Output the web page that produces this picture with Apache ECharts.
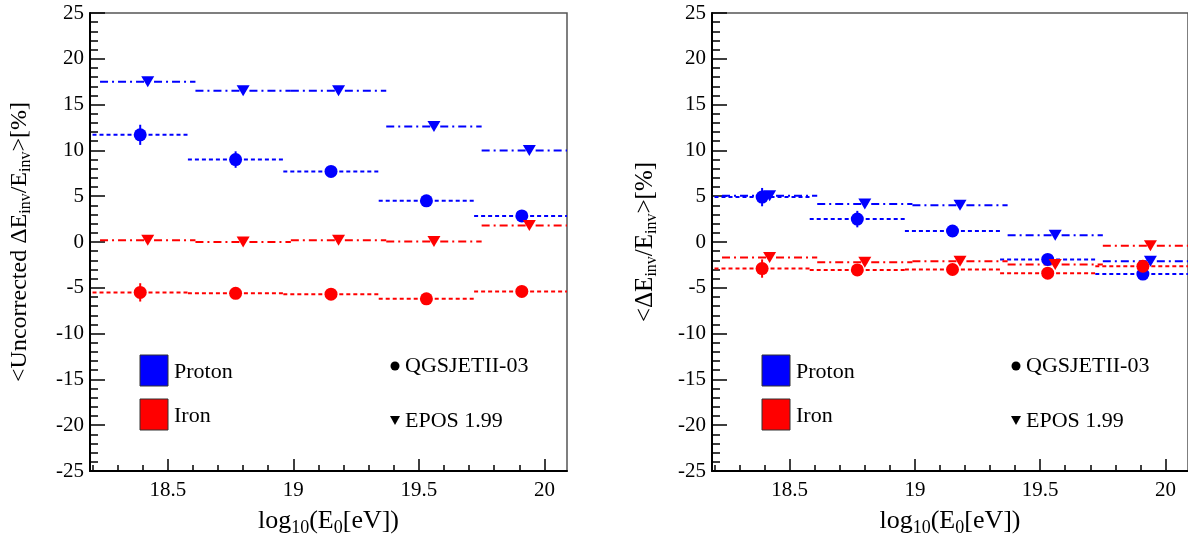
<!DOCTYPE html>
<html>
<head>
<meta charset="utf-8">
<script src="https://cdn.jsdelivr.net/npm/echarts@6/dist/echarts.min.js"></script>
<style>html,body{margin:0;padding:0;background:#fff;}#c{width:1188px;height:542px;}</style>
</head>
<body>
<div id="c"></div>
<script>
// ---- data ----
const qgsEdges = [18.2, 18.58, 18.96, 19.34, 19.72, 20.1];
const eposEdges = [18.23, 18.61, 18.99, 19.37, 19.75, 20.13];
const qgsX = [18.39, 18.77, 19.15, 19.53, 19.91];
const eposX = [18.42, 18.80, 19.18, 19.56, 19.94];

// left panel: uncorrected
const protonQgsUncorr = [11.7, 9.0, 7.7, 4.5, 2.85];
const protonQgsUncorrErr = [1.1, 0.9, 0.5, 0.4, 0.4];
const protonEposUncorr = [17.5, 16.5, 16.5, 12.6, 10.0];
const ironQgsUncorr = [-5.5, -5.6, -5.7, -6.2, -5.4];
const ironQgsUncorrErr = [1.0, 0.6, 0.5, 0.4, 0.4];
const ironEposUncorr = [0.2, 0.0, 0.2, 0.05, 1.8];

// right panel: corrected
const protonQgs = [4.9, 2.5, 1.2, -1.9, -3.5];
const protonQgsErr = [1.0, 0.9, 0.5, 0.4, 0.4];
const protonEpos = [5.05, 4.15, 4.0, 0.75, -2.1];
const ironQgs = [-2.9, -3.05, -3.0, -3.4, -2.65];
const ironQgsErr = [1.0, 0.6, 0.5, 0.4, 0.4];
const ironEpos = [-1.7, -2.2, -2.1, -2.45, -0.4];

const xMajorTicks = [18.5, 19, 19.5, 20];
const xMinorTicks = [18.2, 18.3, 18.4, 18.6, 18.7, 18.8, 18.9, 19.1, 19.2, 19.3, 19.4, 19.6, 19.7, 19.8, 19.9];

// ---- styles ----
const FONT = '"Liberation Serif", "Times New Roman", serif';
const BLUE = '#0000ff', RED = '#ff0000';
const DASH_Q = [4, 3];
const DASH_E = [8, 4, 2, 4];

function binSeries(ax, edges, vals, color, dash) {
  return {
    type: 'custom', xAxisIndex: ax, yAxisIndex: ax >> 1, clip: true, z: 2,
    data: vals.map((v, i) => [edges[i], edges[i + 1], v]),
    encode: {x: [0, 1], y: 2},
    renderItem: (p, api) => {
      const a = api.coord([api.value(0), api.value(2)]);
      const b = api.coord([api.value(1), api.value(2)]);
      return {type: 'line', shape: {x1: a[0], y1: a[1], x2: b[0], y2: b[1]},
        style: {stroke: color, lineWidth: 2, lineDash: dash}};
    }
  };
}
function errSeries(ax, xs, vals, errs, color) {
  return {
    type: 'custom', xAxisIndex: ax, yAxisIndex: ax >> 1, clip: true, z: 3,
    data: vals.map((v, i) => [xs[i], v - errs[i], v + errs[i]]),
    encode: {x: 0, y: [1, 2]},
    renderItem: (p, api) => {
      const a = api.coord([api.value(0), api.value(1)]);
      const b = api.coord([api.value(0), api.value(2)]);
      return {type: 'line', shape: {x1: a[0], y1: a[1], x2: b[0], y2: b[1]},
        style: {stroke: color, lineWidth: 2}};
    }
  };
}
function markSeries(ax, xs, vals, color, tri) {
  return {
    type: 'scatter', xAxisIndex: ax, yAxisIndex: ax >> 1, z: 4,
    symbol: tri ? 'triangle' : 'circle',
    symbolRotate: tri ? 180 : 0,
    symbolSize: tri ? [13, 11] : 13,
    itemStyle: {color: color, opacity: 1},
    data: vals.map((v, i) => [xs[i], v])
  };
}
function panelSeries(ax, pq, pqe, pe, iq, iqe, ie) {
  return [
    binSeries(ax, eposEdges, pe, BLUE, DASH_E),
    binSeries(ax, qgsEdges, pq, BLUE, DASH_Q),
    binSeries(ax, eposEdges, ie, RED, DASH_E),
    binSeries(ax, qgsEdges, iq, RED, DASH_Q),
    errSeries(ax, qgsX, pq, pqe, BLUE),
    errSeries(ax, qgsX, iq, iqe, RED),
    markSeries(ax, eposX, pe, BLUE, true),
    markSeries(ax, qgsX, pq, BLUE, false),
    markSeries(ax, eposX, ie, RED, true),
    markSeries(ax, qgsX, iq, RED, false)
  ];
}

const richName = (m, s) => ({
  m: {fontSize: m, fontFamily: FONT, color: '#000'},
  s: {fontSize: s, fontFamily: FONT, color: '#000', padding: [Math.round(m * 0.55), 0, 0, 0]}
});
const tickLabel = (margin) => ({
  margin: margin, color: '#000',
  formatter: v => '{t|' + v + '}',
  rich: {t: {fontFamily: FONT, fontSize: 21, color: '#000'}}
});

function xMain(gi) {
  return {
    type: 'value', gridIndex: gi, min: 18.19, max: 20.09,
    axisLine: {show: true, onZero: false, lineStyle: {color: '#000', width: 2}},
    axisTick: {show: true, inside: true, length: 12, customValues: xMajorTicks, lineStyle: {color: '#000', width: 1.5}},
    axisLabel: Object.assign({show: true, customValues: xMajorTicks}, tickLabel(9)),
    splitLine: {show: false},
    name: '{m|log}{s|10}{m|(E}{s|0}{m|[eV])}',
    nameLocation: 'middle', nameGap: 34,
    nameTextStyle: {rich: richName(26, 18)}
  };
}
function xMinor(gi) {
  return {
    type: 'value', gridIndex: gi, min: 18.19, max: 20.09, position: 'bottom',
    axisLine: {show: false, onZero: false},
    axisTick: {show: true, inside: true, length: 6, customValues: xMinorTicks, lineStyle: {color: '#000', width: 1.5}},
    axisLabel: {show: false},
    splitLine: {show: false}
  };
}
function yAx(gi, name, gap, fs) {
  return {
    type: 'value', gridIndex: gi, min: -25, max: 25, interval: 5,
    axisLine: {show: true, onZero: false, lineStyle: {color: '#000', width: 2}},
    axisTick: {show: true, inside: true, length: 15, lineStyle: {color: '#000', width: 1.5}},
    minorTick: {show: true, splitNumber: 5, length: 8, lineStyle: {color: '#000', width: 1.5}},
    axisLabel: tickLabel(6),
    splitLine: {show: false},
    name: name, nameLocation: 'middle', nameRotate: 90, nameGap: gap,
    nameTextStyle: {rich: richName(fs, 16)}
  };
}

function legendGraphics(x0, qx) {
  const tf = '22px "Liberation Serif", serif';
  return [
    {type: 'rect', x: x0, y: 355, shape: {width: 28, height: 31}, style: {fill: BLUE, stroke: '#333', lineWidth: 1}},
    {type: 'text', x: x0 + 34, y: 372, style: {text: 'Proton', font: tf, fill: '#000', verticalAlign: 'middle', textVerticalAlign: 'middle'}},
    {type: 'rect', x: x0, y: 399, shape: {width: 28, height: 31}, style: {fill: RED, stroke: '#333', lineWidth: 1}},
    {type: 'text', x: x0 + 34, y: 416, style: {text: 'Iron', font: tf, fill: '#000', verticalAlign: 'middle', textVerticalAlign: 'middle'}},
    {type: 'circle', shape: {cx: qx, cy: 366, r: 4.5}, style: {fill: '#000'}},
    {type: 'text', x: qx + 10, y: 366, style: {text: 'QGSJETII-03', font: tf, fill: '#000', verticalAlign: 'middle', textVerticalAlign: 'middle'}},
    {type: 'polygon', shape: {points: [[qx - 5, 416], [qx + 5, 416], [qx, 425]]}, style: {fill: '#000'}},
    {type: 'text', x: qx + 10, y: 421, style: {text: 'EPOS 1.99', font: tf, fill: '#000', verticalAlign: 'middle', textVerticalAlign: 'middle'}}
  ];
}

const chart = echarts.init(document.getElementById('c'), null, {renderer: 'canvas'});
chart.setOption({
  animation: false,
  backgroundColor: '#fff',
  textStyle: {fontFamily: FONT},
  grid: [
    {left: 90, top: 13, width: 477, height: 458, show: true, borderColor: '#555', borderWidth: 1.5, backgroundColor: 'transparent'},
    {left: 712, top: 13, width: 477, height: 458, show: true, borderColor: '#555', borderWidth: 1.5, backgroundColor: 'transparent'}
  ],
  xAxis: [xMain(0), xMinor(0), xMain(1), xMinor(1)],
  yAxis: [
    yAx(0, '{m|<Uncorrected ΔE}{s|inv}{m|/E}{s|inv}{m|>[%]}', 56, 24),
    yAx(1, '{m|<ΔE}{s|inv}{m|/E}{s|inv}{m|>[%]}', 52, 25)
  ],
  series: [].concat(
    panelSeries(0, protonQgsUncorr, protonQgsUncorrErr, protonEposUncorr, ironQgsUncorr, ironQgsUncorrErr, ironEposUncorr),
    panelSeries(2, protonQgs, protonQgsErr, protonEpos, ironQgs, ironQgsErr, ironEpos)
  ),
  graphic: legendGraphics(140, 395).concat(legendGraphics(762, 1016))
});
</script>
</body>
</html>
